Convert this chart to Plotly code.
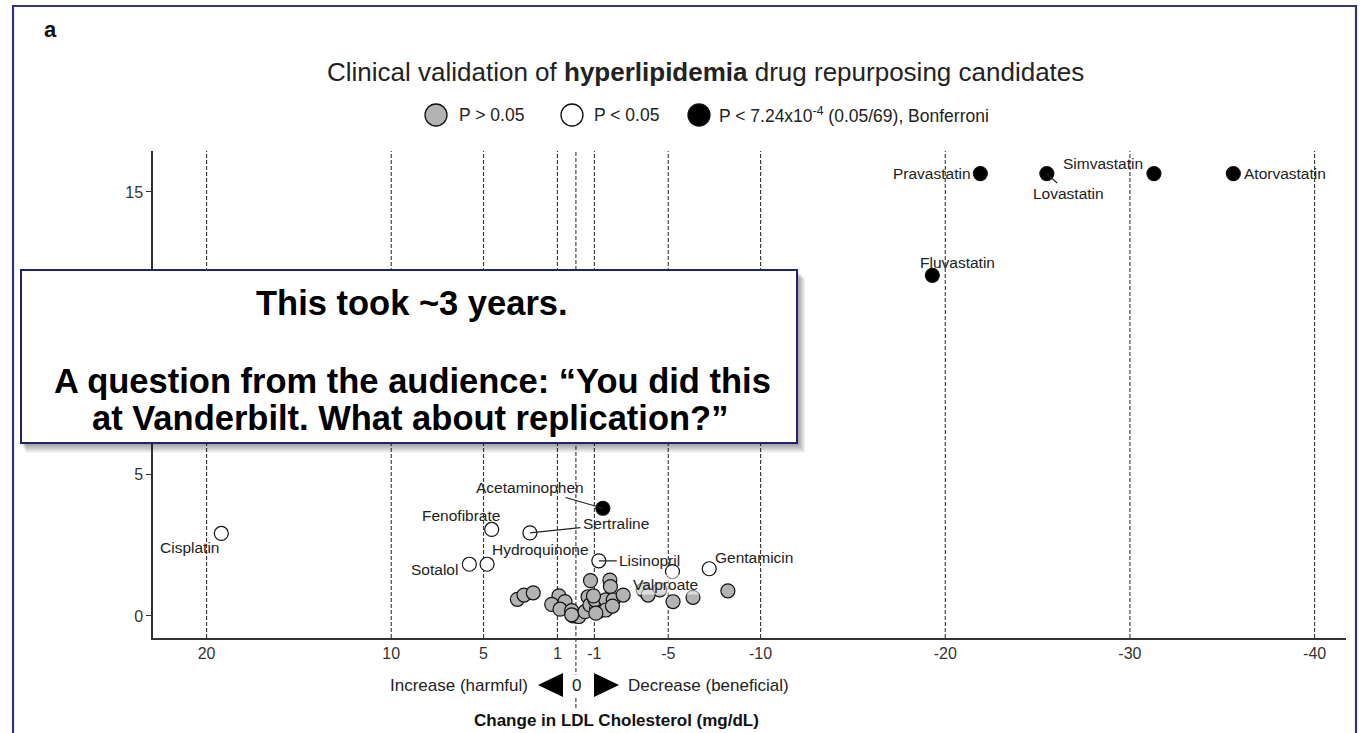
import plotly.graph_objects as go

# ---------------- data ----------------
# x = change in LDL cholesterol (mg/dL), y = -log10(P)
gray_x = [3.17, 2.81, 2.31, 0.92, 1.31, 0.59, 0.86, 0.23, 0.14, -0.16, -0.49, -0.66, -0.76,
          -1.12, -1.21, -1.03, -0.79, -1.84, -1.87, -1.62, -2.02, -1.62, -1.98, -2.56,
          -3.64, -4.54, -3.91, -5.26, -6.34, -8.23, 0.23, -1.08, -0.95]
gray_y = [0.59, 0.74, 0.82, 0.71, 0.41, 0.51, 0.24, 0.19, 0.00, -0.02, 0.15, 0.68, 0.39,
          0.27, 0.15, 0.57, 1.25, 1.27, 1.04, 0.57, 0.57, 0.21, 0.35, 0.74,
          0.92, 0.92, 0.74, 0.51, 0.66, 0.89, 0.04, 0.10, 0.71]

white_names = ["Cisplatin", "Fenofibrate", "Sertraline", "Sotalol", "Hydroquinone",
               "Lisinopril", "Valproate", "Gentamicin"]
white_x = [19.2, 4.56, 2.49, 5.77, 4.81, -1.24, -5.23, -7.22]
white_y = [2.92, 3.06, 2.94, 1.83, 1.83, 1.95, 1.57, 1.67]

black_names = ["Acetaminophen", "Fluvastatin", "Pravastatin", "Lovastatin",
               "Simvastatin", "Atorvastatin"]
black_x = [-1.46, -19.3, -21.9, -25.5, -31.3, -35.6]
black_y = [3.81, 12.05, 15.65, 15.65, 15.65, 15.65]

x_ticks = [20, 10, 5, 1, -1, -5, -10, -20, -30, -40]
x_ticktext = ["20", "10", "5", "1", "-1", "-5", "-10", "-20", "-30", "-40"]
ref_lines = [20, 10, 5, 1, 0, -1, -5, -10, -20, -30, -40]
y_ticks = [0, 5, 10, 15]

legend_labels = ["P > 0.05", "P < 0.05", "P < 7.24x10<sup>-4</sup> (0.05/69), Bonferroni"]

# ---------------- label placement (pixel offsets label-centre minus point) ----------------
label_pos = {
    "Pravastatin": (-48, 0, False),
    "Lovastatin": (22, 20, True),
    "Simvastatin": (-51, -10, False),
    "Atorvastatin": (52, 0, False),
    "Fluvastatin": (25, -13, False),
    "Acetaminophen": (-73, -21, True),
    "Fenofibrate": (-31, -14, False),
    "Sertraline": (86, -9, True),
    "Hydroquinone": (53, -15, False),
    "Sotalol": (-35, 5, False),
    "Lisinopril": (51, 0, True),
    "Valproate": (-7, 13, False),
    "Gentamicin": (45, -11, False),
    "Cisplatin": (-32, 14, False),
}

FONT = "Liberation Sans, Arial, Helvetica, sans-serif"
W_FIG, H_FIG = 1363, 733
ML, MR, MT, MB = 153, 17, 151, 95
PW = W_FIG - ML - MR
PH = H_FIG - MT - MB


def PX(px):
    return (px - ML) / PW


def PY(py):
    return (H_FIG - MB - py) / PH


def paper_text(px, py, text, size, color="#222", xanchor="center", **kw):
    d = dict(xref="paper", yref="paper", x=PX(px), y=PY(py), text=text,
             xanchor=xanchor, yanchor="middle", showarrow=False,
             font=dict(family=FONT, size=size, color=color))
    d.update(kw)
    return d


fig = go.Figure()
marker_line = dict(color="#111111", width=1.2)
fig.add_trace(go.Scatter(x=gray_x, y=gray_y, mode="markers",
                         marker=dict(size=14, color="#b3b3b3", line=marker_line),
                         showlegend=False, hoverinfo="skip"))
fig.add_trace(go.Scatter(x=white_x, y=white_y, mode="markers", text=white_names,
                         marker=dict(size=14, color="#ffffff", line=marker_line),
                         showlegend=False))
fig.add_trace(go.Scatter(x=black_x, y=black_y, mode="markers", text=black_names,
                         marker=dict(size=14, color="#000000", line=marker_line),
                         showlegend=False))

shapes = []
annotations = []

# dashed reference lines
for v in ref_lines:
    shapes.append(dict(type="line", xref="x", yref="paper", x0=v, x1=v,
                       y0=PY(708) if v == 0 else 0, y1=1,
                       line=dict(color="#333333", width=1.1, dash="4px,2px"), layer="below"))

# point labels
for names, xs, ys in [(white_names, white_x, white_y), (black_names, black_x, black_y)]:
    for n, xv, yv in zip(names, xs, ys):
        dx, dy, leader = label_pos[n]
        a = dict(x=xv, y=yv, xref="x", yref="y", text=n,
                 font=dict(family=FONT, size=15.5, color="#222222"))
        if leader:
            a.update(showarrow=True, ax=dx, ay=dy, arrowhead=0, arrowwidth=1.2,
                     arrowcolor="#222222", standoff=0, startstandoff=1)
        else:
            a.update(showarrow=False, xshift=dx, yshift=-dy, xanchor="center", yanchor="middle")
        if n == "Valproate":
            a.update(bgcolor="rgba(255,255,255,0.55)")
        annotations.append(a)

# panel letter and title
annotations.append(paper_text(50, 30, "<b>a</b>", 22, color="#111"))
annotations.append(paper_text(705, 72,
                              "Clinical validation of <b>hyperlipidemia</b> drug repurposing candidates",
                              26))

# manual legend
leg_cx = [436, 572, 699]
leg_fill = ["#b3b3b3", "#ffffff", "#000000"]
leg_tx = [457, 592, 717]
for cx, fc, tx, lab in zip(leg_cx, leg_fill, leg_tx, legend_labels):
    shapes.append(dict(type="circle", xref="paper", yref="paper",
                       xsizemode="pixel", ysizemode="pixel",
                       xanchor=PX(cx), yanchor=PY(115), x0=-11, x1=11, y0=-11, y1=11,
                       fillcolor=fc, line=dict(color="#111", width=1.3)))
    annotations.append(paper_text(tx, 115, lab, 17.5, xanchor="left"))

# bottom direction annotation
annotations.append(paper_text(530, 685, "Increase (harmful)", 17, xanchor="right"))
annotations.append(paper_text(626, 685, "Decrease (beneficial)", 17, xanchor="left"))
annotations.append(paper_text(576, 685, "0", 17, bgcolor="#ffffff"))
annotations.append(paper_text(616, 720, "<b>Change in LDL Cholesterol (mg/dL)</b>", 17, color="#111"))


def tri(pts):
    return "M " + " L ".join(f"{PX(a):.5f},{PY(b):.5f}" for a, b in pts) + " Z"


shapes.append(dict(type="path", xref="paper", yref="paper",
                   path=tri([(538, 685), (563, 673), (563, 697)]),
                   fillcolor="#000", line=dict(width=0)))
shapes.append(dict(type="path", xref="paper", yref="paper",
                   path=tri([(594, 673), (594, 697), (619, 685)]),
                   fillcolor="#000", line=dict(width=0)))

# outer navy frame
shapes.append(dict(type="rect", xref="paper", yref="paper",
                   x0=PX(13), x1=PX(1356), y0=PY(745), y1=PY(6),
                   line=dict(color="#34347a", width=2.2), fillcolor="rgba(0,0,0,0)", layer="above"))

# overlay callout box with soft shadow
bx0, bx1, by0, by1 = 21, 797, 270, 443
for i in range(1, 9):
    shapes.append(dict(type="rect", xref="paper", yref="paper",
                       x0=PX(bx0 + i * 0.6), x1=PX(bx1 + i), y0=PY(by1 + i * 1.2), y1=PY(by0 + i),
                       fillcolor="rgba(0,0,0,0.055)", line=dict(width=0), layer="above"))
shapes.append(dict(type="rect", xref="paper", yref="paper",
                   x0=PX(bx0), x1=PX(bx1), y0=PY(by1), y1=PY(by0),
                   fillcolor="#ffffff", line=dict(color="#22226b", width=2), layer="above"))

box_lines = [("This took ~3 years.", 412, 303),
             ("A question from the audience: \u201cYou did this", 412, 381),
             ("at Vanderbilt. What about replication?\u201d", 410, 418)]
for t, cx, cy in box_lines:
    annotations.append(paper_text(cx, cy, f"<b>{t}</b>", 34.5, color="#000"))

fig.update_layout(
    width=W_FIG, height=H_FIG, autosize=False,
    margin=dict(l=ML, r=MR, t=MT, b=MB, pad=0),
    paper_bgcolor="#ffffff", plot_bgcolor="#ffffff",
    showlegend=False,
    font=dict(family=FONT, color="#333"),
    shapes=shapes, annotations=annotations,
    xaxis=dict(range=[22.9, -41.7], tickmode="array", tickvals=x_ticks, ticktext=x_ticktext,
               showgrid=False, zeroline=False, showline=True, linecolor="#333", linewidth=1.5,
               ticks="", tickfont=dict(family=FONT, size=16, color="#333")),
    yaxis=dict(range=[-0.78, 16.45], tickmode="array", tickvals=y_ticks,
               showgrid=False, zeroline=False, showline=True, linecolor="#333", linewidth=1.5,
               ticks="outside", ticklen=5, tickcolor="#333", tickwidth=1.2,
               tickfont=dict(family=FONT, size=16, color="#333")),
)

fig.write_html("out.html", config={"displayModeBar": False},
               post_script="document.body.style.margin='0';document.body.style.overflow='hidden';")
